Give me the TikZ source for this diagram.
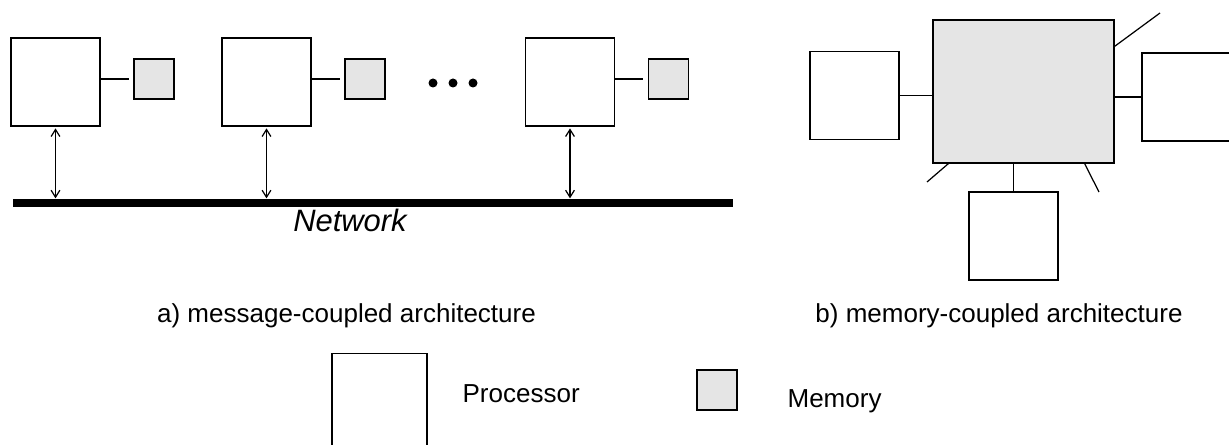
\documentclass[tikz,border=0pt]{standalone}
\usepackage{fontspec}
\setmainfont{Liberation Sans}
\usetikzlibrary{arrows.meta}
\definecolor{memgray}{RGB}{229,229,229}

\begin{document}
\begin{tikzpicture}[line width=0.7pt,
		proc/.style={draw,minimum width=1.78cm,minimum height=1.76cm,inner sep=0pt},
		mem/.style={draw,fill=memgray,minimum size=0.8cm,inner sep=0pt},
		dot/.style={circle,fill=black,inner sep=0pt,minimum size=0.18cm},
		lbl/.style={font=\fontsize{14.8}{17}\selectfont,inner sep=0pt},
		>={Straight Barb[length=4pt,width=5pt]}]
		\useasboundingbox (0,0) rectangle (24.58,-8.9);
		\node[proc] (p1) at (1.11,-1.64) {};
		\node[proc] (p2) at (5.33,-1.64) {};
		\node[proc] (p3) at (11.40,-1.64) {};
		\node[mem] (m1) at (3.08,-1.58) {};
		\node[mem] (m2) at (7.30,-1.58) {};
		\node[mem] (m3) at (13.37,-1.58) {};
		\draw[shorten >=2.5pt] (m1.west -| p1.east) -- (m1.west);
		\draw[shorten >=2.5pt] (m2.west -| p2.east) -- (m2.west);
		\draw[shorten >=2.5pt] (m3.west -| p3.east) -- (m3.west);
		\foreach \x [count=\i] in {8.66,9.06,9.46}
			\node[dot] (d\i) at (\x,-1.66) {};
		\node[fill=black,minimum width=14.4cm,minimum height=0.16cm,inner sep=0pt] (net) at (7.46,-4.06) {};
		\draw[<->,shorten <=1pt] (p1.south) -- (p1.south |- net.north);
		\draw[<->,shorten <=1pt] (p2.south) -- (p2.south |- net.north);
		\draw[<->,shorten <=1pt] (p3.south) -- (p3.south |- net.north);
		\node[anchor=base,inner sep=0pt,font=\fontsize{17.6}{20}\selectfont\itshape] (nettxt) at (7.0,-4.64) {Network};
		\node[lbl,anchor=base] (capa) at (6.93,-6.46) {a) message-coupled architecture};

		\node[mem,minimum width=3.62cm,minimum height=2.86cm] (bm) at (20.47,-1.83) {};
		\node[proc] (lp) at (17.09,-1.91) {};
		\node[proc] (rp) at (23.73,-1.94) {};
		\node[proc] (bp) at (20.27,-4.72) {};
		\draw (lp.east) -- (lp.east -| bm.west);
		\draw (rp.west) -- (rp.west -| bm.east);
		\draw (bp.north) -- (bp.north |- bm.south);
		\coordinate (e1) at (23.2,-0.26);
		\coordinate (e2) at (18.54,-3.64);
		\coordinate (e3) at (21.98,-3.84);
		\draw (bm.north east) ++(0,-0.54) -- (e1);
		\draw (bm.south west) ++(0.32,0) -- (e2);
		\draw (bm.south east) ++(-0.6,0) -- (e3);
		\node[lbl,anchor=base] (capb) at (19.98,-6.46) {b) memory-coupled architecture};

		\node[proc,minimum width=1.9cm,minimum height=1.9cm,anchor=north] (lgp) at (7.59,-7.06) {};
		\node[lbl,anchor=base west] (lgptxt) at (9.24,-8.06) {Processor};
		\node[mem] (lgm) at (14.34,-7.8) {};
		\node[lbl,anchor=base west] (lgmtxt) at (15.74,-8.16) {Memory};
	\end{tikzpicture}
\end{document}
